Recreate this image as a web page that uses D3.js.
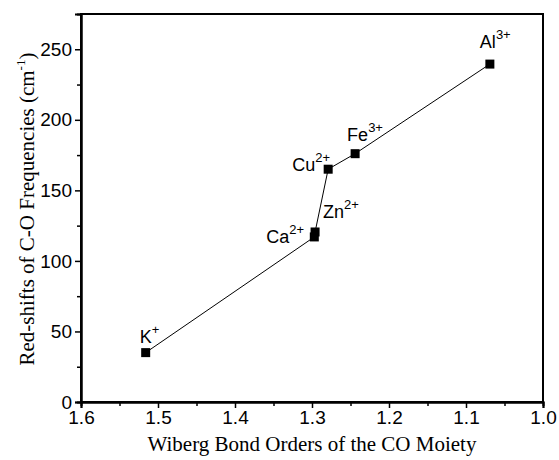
<!DOCTYPE html>
<html>
<head>
<meta charset="utf-8">
<script src="https://cdn.jsdelivr.net/npm/d3@7"></script>
<style>
  body { margin: 0; background: #fff; }
  svg text { fill: #000; }
</style>
</head>
<body>
<div id="chart"></div>
<script>
// data
const ions = ["K", "Ca", "Zn", "Cu", "Fe", "Al"];
const charges = ["+", "2+", "2+", "2+", "3+", "3+"];
const bondOrders = [1.516, 1.297, 1.296, 1.279, 1.244, 1.069];
const redShifts = [35, 117, 120.5, 165, 176, 239.5];
const xTicks = [1.6, 1.5, 1.4, 1.3, 1.2, 1.1, 1.0];
const yTicks = [0, 50, 100, 150, 200, 250];

// label offsets (px) relative to each marker
const labelDx = [-6, -48, 8, -36, -8, -10];
const labelDy = [-10, 6, -14, 2, -13, -16];

const width = 559, height = 460;
const margin = {top: 14, right: 16, bottom: 58, left: 81};
const w = width - margin.left - margin.right;
const h = height - margin.top - margin.bottom;

const svg = d3.select("#chart").append("svg")
    .attr("width", width)
    .attr("height", height);

const g = svg.append("g")
    .attr("transform", `translate(${margin.left},${margin.top})`);

// x axis is reversed: 1.6 on the left, 1.0 on the right
const x = d3.scaleLinear().domain([1.6, 1.0]).range([0, w]);
const y = d3.scaleLinear().domain([0, 275]).range([h, 0]);

// frame
g.append("rect")
    .attr("width", w)
    .attr("height", h)
    .attr("fill", "none")
    .attr("stroke", "#000")
    .attr("stroke-width", 2);

// minor ticks
const xAxis = g.append("g")
    .attr("transform", `translate(0,${h})`)
    .call(d3.axisBottom(x).tickValues(d3.range(1.55, 1.0, -0.1)).tickSize(4).tickFormat(""));
const yMinor = g.append("g")
    .call(d3.axisLeft(y).tickValues([25, 75, 125, 175, 225]).tickSize(4).tickFormat(""));

// major ticks
const xMajor = g.append("g")
    .attr("transform", `translate(0,${h})`)
    .call(d3.axisBottom(x).tickValues(xTicks).tickSize(6).tickPadding(3).tickFormat(d3.format(".1f")));
const yMajor = g.append("g")
    .call(d3.axisLeft(y).tickValues(yTicks).tickSize(6).tickPadding(3).tickFormat(d3.format("d")));

[xAxis, yMinor, xMajor, yMajor].forEach(a => {
    a.select(".domain").attr("stroke-width", 2);
    a.selectAll(".tick line").attr("stroke-width", 1.5);
    a.selectAll("text")
        .style("font-family", "Liberation Sans, Arial, sans-serif")
        .style("font-size", "19px");
});

// connecting line
const pts = bondOrders.map((b, i) => ({x: b, y: redShifts[i], ion: ions[i], q: charges[i], i: i}));
g.append("path")
    .datum(pts)
    .attr("fill", "none")
    .attr("stroke", "#000")
    .attr("stroke-width", 1)
    .attr("d", d3.line().x(d => x(d.x)).y(d => y(d.y)));

// square markers
g.selectAll("rect.pt")
    .data(pts)
    .enter().append("rect")
    .attr("class", "pt")
    .attr("x", d => x(d.x) - 4.5)
    .attr("y", d => y(d.y) - 4.5)
    .attr("width", 9)
    .attr("height", 9)
    .attr("fill", "#000");

// ion labels with superscript charge
const lab = g.selectAll("text.lab")
    .data(pts)
    .enter().append("text")
    .attr("class", "lab")
    .attr("x", d => x(d.x) + labelDx[d.i])
    .attr("y", d => y(d.y) + labelDy[d.i])
    .style("font-family", "Liberation Sans, Arial, sans-serif")
    .style("font-size", "18px");
lab.append("tspan").text(d => d.ion);
lab.append("tspan")
    .attr("dy", -9)
    .style("font-size", "13px")
    .text(d => d.q);

// axis titles
svg.append("text")
    .attr("x", margin.left + w / 2)
    .attr("y", 451)
    .attr("text-anchor", "middle")
    .style("font-family", "Liberation Serif, Times New Roman, serif")
    .style("font-size", "21px")
    .text("Wiberg Bond Orders of the CO Moiety");

const yt = svg.append("text")
    .attr("transform", `translate(34,${margin.top + h / 2 + 1}) rotate(-90)`)
    .attr("text-anchor", "middle")
    .style("font-family", "Liberation Serif, Times New Roman, serif")
    .style("font-size", "21px");
yt.append("tspan").text("Red-shifts of C-O Frequencies (cm");
yt.append("tspan").attr("dy", -9).style("font-size", "13px").text("-1");
yt.append("tspan").attr("dy", 9).text(")");
</script>
</body>
</html>
